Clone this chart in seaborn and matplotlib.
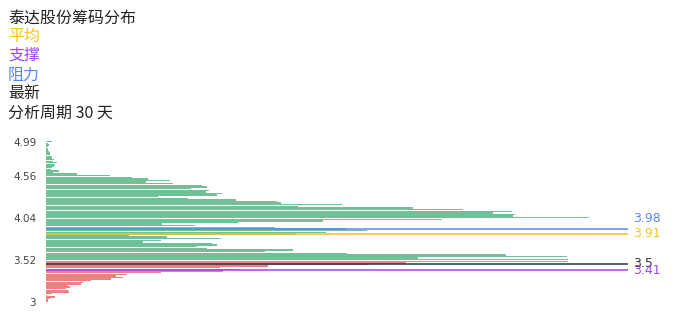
import matplotlib
matplotlib.use("Agg")
import matplotlib.pyplot as plt
import seaborn as sns
import pandas as pd
import numpy as np

# ---- data ----
prices = [3.00, 3.02, 3.04, 3.06, 3.08, 3.10, 3.12, 3.14, 3.16, 3.18,
          3.20, 3.22, 3.24, 3.26, 3.28, 3.30, 3.32, 3.34, 3.36, 3.38,
          3.40, 3.42, 3.44, 3.46, 3.48, 3.50, 3.52, 3.54, 3.56, 3.58,
          3.60, 3.62, 3.64, 3.66, 3.68, 3.70, 3.72, 3.74, 3.76, 3.78,
          3.80, 3.82, 3.84, 3.86, 3.88, 3.90, 3.92, 3.94, 3.96, 3.98,
          4.00, 4.02, 4.04, 4.06, 4.08, 4.10, 4.12, 4.14, 4.16, 4.18,
          4.20, 4.22, 4.24, 4.26, 4.28, 4.30, 4.32, 4.34, 4.36, 4.38,
          4.40, 4.42, 4.44, 4.46, 4.48, 4.50, 4.52, 4.54, 4.56, 4.58,
          4.60, 4.62, 4.64, 4.66, 4.68, 4.70, 4.72, 4.74, 4.76, 4.78,
          4.80, 4.82, 4.84, 4.86, 4.88, 4.90, 4.92, 4.94, 4.96, 4.98]
volumes = [2, 2, 4, 9, 1, 6, 23, 22, 20, 24,
           21, 35, 37, 45, 65, 77, 70, 81, 115, 177,
           193, 174, 222, 323, 360, 522, 522, 372, 521, 460,
           301, 219, 247, 161, 151, 171, 166, 97, 115, 175,
           121, 83, 250, 280, 321, 300, 229, 149, 116, 192,
           277, 396, 543, 467, 469, 447, 466, 417, 367, 252,
           296, 235, 231, 190, 142, 112, 171, 176, 160, 163,
           145, 161, 156, 127, 100, 124, 102, 86, 64, 31,
           7, 13, 5, 6, 8, 9, 11, 7, 8, 6,
           5, 4, 4, 3, 2, 1.5, 2, 3, 1.5, 6]
latest_price = 3.5
avg_price = 3.91
support_price = 3.41
resistance_price = 3.98
tick_values = [3.00, 3.52, 4.04, 4.56, 4.99]
tick_labels = ["3", "3.52", "4.04", "4.56", "4.99"]
title_lines = ["泰达股份筹码分布", "平均", "支撑", "阻力", "最新", "分析周期 30 天"]

GREEN = "#2ea466"
RED = "#ec4343"
C_AVG = "#f7c21a"
C_SUP = "#a044ee"
C_RES = "#5588f5"
C_LAST = "#333333"

df = pd.DataFrame({"price": [f"{p:.2f}" for p in prices], "volume": volumes})
df["side"] = ["profit" if p >= latest_price else "loss" for p in prices]

sns.set_theme(style="white")
plt.rcParams["font.family"] = ["Noto Sans CJK SC", "DejaVu Sans"]

fig = plt.figure(figsize=(6.96, 3.2), dpi=100)
ax = fig.add_axes([46 / 696, 17.5 / 320, 582 / 696, 161.5 / 320])

sns.barplot(data=df, x="volume", y="price", hue="side", orient="h",
            order=list(df["price"]), dodge=False, width=0.85, saturation=1,
            palette={"profit": GREEN, "loss": RED}, alpha=0.68,
            linewidth=0, legend=False, ax=ax, errorbar=None)

n = len(prices)
ax.set_xlim(0, 582)
ax.set_ylim(-0.5, n - 0.5)
tick_pos = np.interp(tick_values, prices, np.arange(n))
ax.set_yticks(tick_pos)
ax.set_yticklabels(tick_labels, fontsize=7.5, color="#444444",
                   family=["DejaVu Sans"])
ax.tick_params(axis="y", length=0, pad=7)
ax.set_xticks([])
ax.set_xlabel("")
ax.set_ylabel("")
for s in ax.spines.values():
    s.set_visible(False)

# reference lines (drawn on their own value scale, as in the reference)
ax2 = ax.twinx()
ax2.set_ylim(2.971, 5.175)
ax2.set_yticks([])
for s in ax2.spines.values():
    s.set_visible(False)

lines = [(resistance_price, C_RES, "3.98", 7),
         (avg_price, C_AVG, "3.91", 0),
         (latest_price, C_LAST, "3.5", 0),
         (support_price, C_SUP, "3.41", 0)]
for val, col, lab, dy in lines:
    ax2.axhline(val, color=col, lw=1.1)
    ax2.annotate(lab, xy=(1.0, val), xycoords=("axes fraction", "data"),
                 xytext=(4, dy), textcoords="offset points",
                 ha="left", va="center", fontsize=9, color=col,
                 family=["DejaVu Sans"])

# titles
colors = ["#222222", C_AVG, C_SUP, C_RES, "#222222", "#222222"]
ys = [18, 36.5, 55.5, 75, 93.5, 113]
for t, c, y in zip(title_lines, colors, ys):
    fig.text(8 / 696, 1 - y / 320, t, ha="left", va="center",
             fontsize=11.5, color=c)

fig.savefig("out.png", dpi=100)
